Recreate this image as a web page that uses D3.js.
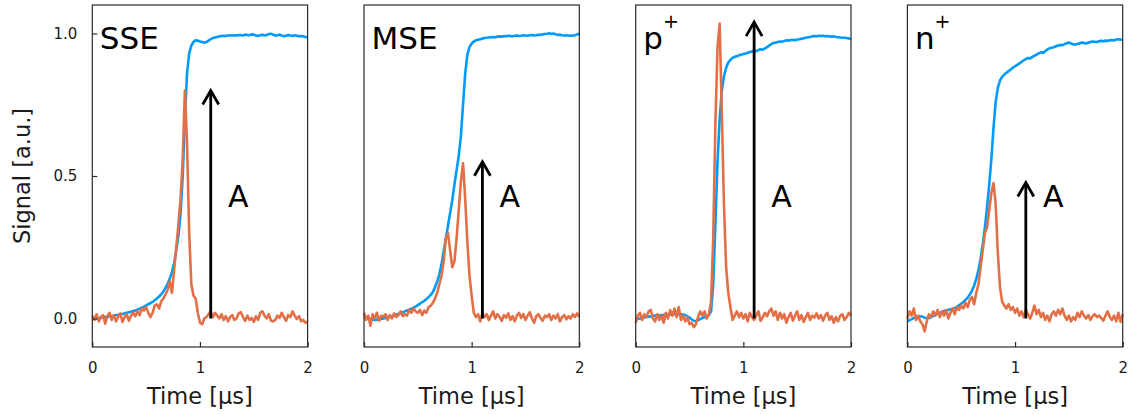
<!DOCTYPE html>
<html><head><meta charset="utf-8">
<script src="https://cdn.jsdelivr.net/npm/d3@7"></script>
<style>
body{margin:0;background:#fff}
svg{display:block}
text{font-family:"DejaVu Sans",sans-serif}
</style>
</head><body>
<svg id="chart" width="1132" height="414"></svg>
<script>
// ---------- data ----------
const panelLabels = ["SSE", "MSE", "p", "n"];
const panelSuperscripts = ["", "", "+", "+"];
const xTicks = [0, 1, 2];
const xTickLabels = ["0", "1", "2"];
const yTicks = [0, 0.5, 1.0];
const yTickLabels = ["0.0", "0.5", "1.0"];
const xTitle = "Time [μs]";
const yTitle = "Signal [a.u.]";
const arrowTime = [1.1, 1.1, 1.1, 1.1];
const arrowTop = [0.80, 0.55, 1.04, 0.477];
const arrowLabel = "A";
const sampleStart = 0, sampleStep = 0.02; // µs between samples

const sseBlue = [
0.000,0.001,0.000,0.002,0.003,0.004,0.005,0.006,0.008,0.008,
0.010,0.012,0.013,0.015,0.016,0.018,0.020,0.022,0.024,0.026,
0.028,0.031,0.034,0.038,0.042,0.046,0.050,0.054,0.058,0.064,
0.070,0.077,0.085,0.095,0.107,0.122,0.140,0.163,0.195,0.240,
0.290,0.370,0.500,0.700,0.860,0.930,0.958,0.970,0.976,0.975,
0.972,0.970,0.968,0.970,0.975,0.980,0.984,0.986,0.988,0.990,
0.991,0.992,0.991,0.993,0.994,0.993,0.994,0.993,0.995,0.994,
0.993,0.996,0.995,0.994,0.997,0.996,0.993,0.991,0.994,0.996,
0.993,0.995,0.998,0.999,0.996,0.993,0.994,0.996,0.993,0.990,
0.992,0.995,0.993,0.991,0.994,0.992,0.990,0.991,0.990,0.988,
0.986];
const sseOrange = [
0.010,-0.005,0.015,-0.010,0.005,0.012,-0.018,0.008,0.020,-0.005,
0.012,-0.010,0.006,0.018,-0.012,0.004,0.015,-0.008,0.010,0.020,
0.008,0.025,0.012,0.035,0.028,0.040,0.020,0.005,0.020,0.045,
0.050,0.035,0.060,0.070,0.085,0.100,0.130,0.090,0.170,0.250,
0.330,0.420,0.560,0.800,0.620,0.300,0.120,0.080,0.070,0.020,
-0.015,-0.020,0.000,0.005,0.015,0.025,0.005,0.020,0.010,0.000,
0.015,-0.005,0.008,-0.010,0.005,0.012,-0.005,0.000,0.018,0.022,
0.005,-0.008,0.010,-0.005,0.002,-0.012,0.008,-0.005,0.020,0.025,
0.010,0.000,0.015,-0.008,-0.010,-0.005,0.010,0.002,0.020,0.005,
-0.008,0.012,0.005,0.025,0.010,-0.002,0.008,-0.010,-0.005,-0.015,
-0.010];
const mseBlue = [
0.005,0.003,0.000,-0.002,-0.004,-0.005,-0.004,-0.003,-0.002,0.000,
0.002,0.004,0.006,0.008,0.010,0.013,0.016,0.019,0.022,0.025,
0.028,0.031,0.034,0.038,0.042,0.047,0.052,0.057,0.062,0.068,
0.075,0.083,0.093,0.110,0.130,0.155,0.190,0.235,0.280,0.325,
0.370,0.415,0.470,0.520,0.570,0.640,0.750,0.860,0.925,0.952,
0.965,0.972,0.976,0.978,0.980,0.982,0.984,0.985,0.986,0.987,
0.988,0.987,0.989,0.990,0.989,0.991,0.990,0.992,0.991,0.990,
0.992,0.993,0.991,0.992,0.994,0.993,0.992,0.994,0.995,0.993,
0.994,0.996,0.995,0.997,0.998,0.999,1.001,0.998,1.000,0.997,
0.995,0.996,0.994,0.993,0.994,0.993,0.992,0.993,0.994,0.997,
0.999];
const mseOrange = [
0.020,-0.005,0.010,-0.025,0.015,0.000,0.020,-0.008,0.010,0.005,
0.015,-0.005,0.012,0.000,0.018,0.005,0.012,0.025,0.008,0.015,
0.010,0.030,0.020,0.035,0.025,0.020,0.030,0.012,0.028,0.020,
0.040,0.045,0.055,0.070,0.090,0.120,0.150,0.200,0.280,0.300,
0.240,0.180,0.200,0.280,0.380,0.480,0.545,0.420,0.270,0.150,
0.080,0.020,0.005,0.015,-0.010,0.020,0.005,0.015,-0.005,0.010,
0.025,0.000,0.015,0.005,-0.008,0.012,0.003,0.018,-0.005,0.008,
-0.010,0.010,0.020,0.002,0.015,-0.005,0.010,0.022,0.000,-0.015,
0.008,0.015,0.002,-0.008,0.010,0.005,0.015,-0.005,0.010,0.000,
0.015,-0.010,0.005,0.012,-0.003,0.008,0.000,0.015,0.005,0.018,
0.005];
const pBlue = [
-0.004,-0.002,0.000,0.002,0.004,0.005,0.006,0.008,0.009,0.010,
0.010,0.011,0.012,0.012,0.013,0.013,0.014,0.014,0.015,0.015,
0.015,0.015,0.014,0.012,0.008,0.003,-0.003,-0.008,-0.010,-0.006,
-0.002,0.002,0.005,0.008,0.012,0.025,0.120,0.330,0.550,0.700,
0.800,0.850,0.880,0.898,0.908,0.915,0.918,0.920,0.924,0.925,
0.928,0.930,0.932,0.935,0.937,0.940,0.938,0.942,0.945,0.943,
0.948,0.952,0.958,0.963,0.967,0.968,0.970,0.972,0.971,0.974,
0.976,0.975,0.977,0.978,0.976,0.979,0.980,0.982,0.983,0.985,
0.987,0.988,0.990,0.991,0.990,0.992,0.991,0.992,0.990,0.991,
0.990,0.989,0.990,0.988,0.987,0.986,0.985,0.985,0.984,0.983,
0.980];
const pOrange = [
-0.015,0.010,0.020,-0.005,0.015,0.005,0.025,0.030,0.000,-0.010,
0.015,-0.005,0.010,-0.015,0.020,0.000,0.030,0.010,0.035,0.005,
0.040,-0.005,0.010,-0.010,0.005,-0.020,-0.015,-0.030,-0.020,0.005,
0.025,0.010,0.025,0.000,0.015,0.060,0.280,0.680,0.950,1.035,
0.720,0.400,0.180,0.090,0.040,-0.005,0.010,0.025,0.005,0.020,
0.000,0.015,-0.010,0.020,0.005,-0.005,0.010,0.025,-0.008,0.005,
0.020,0.008,0.025,0.035,0.010,0.025,-0.005,0.020,0.000,0.015,
-0.015,0.005,0.020,-0.008,0.010,0.025,-0.005,0.012,-0.012,0.005,
0.020,-0.005,0.010,0.003,0.018,0.000,0.012,-0.008,0.010,0.020,
-0.005,0.008,-0.015,0.005,-0.010,0.010,0.015,-0.005,0.005,0.020,
0.010];
const nBlue = [
-0.010,-0.006,-0.002,0.002,0.005,0.008,0.008,0.006,0.003,0.001,
0.002,0.005,0.009,0.013,0.017,0.020,0.023,0.026,0.028,0.030,
0.032,0.034,0.037,0.041,0.046,0.052,0.058,0.065,0.073,0.084,
0.098,0.115,0.140,0.170,0.210,0.260,0.320,0.390,0.470,0.560,
0.670,0.760,0.810,0.835,0.848,0.856,0.862,0.868,0.874,0.880,
0.885,0.890,0.895,0.900,0.906,0.910,0.914,0.912,0.918,0.922,
0.926,0.930,0.934,0.932,0.938,0.944,0.948,0.950,0.952,0.955,
0.958,0.960,0.959,0.963,0.966,0.968,0.965,0.962,0.961,0.963,
0.966,0.968,0.967,0.965,0.968,0.970,0.972,0.971,0.970,0.973,
0.974,0.973,0.975,0.974,0.976,0.977,0.976,0.979,0.980,0.979,
0.977];
const nOrange = [
0.000,0.025,0.010,0.035,-0.005,0.010,-0.010,-0.020,-0.045,-0.010,
0.015,0.005,0.025,0.010,0.030,0.005,0.025,0.010,0.030,0.000,
0.020,0.035,0.015,0.040,0.030,0.045,0.035,0.055,0.040,0.065,
0.075,0.050,0.090,0.120,0.180,0.240,0.300,0.320,0.380,0.440,
0.475,0.400,0.230,0.110,0.060,0.045,0.035,0.050,0.030,0.040,
0.020,0.035,0.010,0.025,0.005,0.030,0.015,0.000,0.020,0.045,
0.015,0.030,0.005,0.020,-0.005,0.010,-0.010,0.015,0.025,0.010,
0.030,0.015,0.035,0.010,-0.005,0.010,-0.010,0.005,-0.005,0.020,
0.005,0.025,0.010,0.000,0.012,-0.005,0.008,0.015,0.005,0.010,
0.002,-0.008,0.010,0.025,0.005,-0.005,0.010,-0.010,0.020,-0.012,
0.015];

const blueSeries = [sseBlue, mseBlue, pBlue, nBlue];
const orangeSeries = [sseOrange, mseOrange, pOrange, nOrange];

// ---------- layout ----------
const svg = d3.select("#chart");
const panelLeft0 = 92.3, panelStep = 271.7, panelW = 215.3;
const plotTop = 5, plotBottom = 347;
const blue = "#009AFA", orange = "#E36F47";
const frameColor = "#2a2a2a";

const y = d3.scaleLinear().domain([-0.1, 1.1]).range([plotBottom, plotTop]);

const line = (xs) => d3.line()
  .x((d, i) => xs(sampleStart + i * sampleStep))
  .y(d => y(d));

panelLabels.forEach((label, p) => {
  const left = panelLeft0 + p * panelStep;
  const x = d3.scaleLinear().domain([0, 2]).range([left, left + panelW]);
  const g = svg.append("g");

  // series
  g.append("path").datum(blueSeries[p])
    .attr("d", line(x)).attr("fill", "none")
    .attr("stroke", blue).attr("stroke-width", 2.6)
    .attr("stroke-linejoin", "round");
  g.append("path").datum(orangeSeries[p])
    .attr("d", line(x)).attr("fill", "none")
    .attr("stroke", orange).attr("stroke-width", 2.6)
    .attr("stroke-linejoin", "round");

  // arrow
  const ax = x(arrowTime[p]);
  const ay0 = y(0), ay1 = y(arrowTop[p]);
  g.append("line").attr("x1", ax).attr("x2", ax).attr("y1", ay0).attr("y2", ay1 + 1)
    .attr("stroke", "#000").attr("stroke-width", 2.8);
  g.append("path")
    .attr("d", `M${ax - 8},${ay1 + 14}L${ax},${ay1}L${ax + 8},${ay1 + 14}`)
    .attr("fill", "none").attr("stroke", "#000").attr("stroke-width", 2.8)
    .attr("stroke-linejoin", "miter");
  g.append("text").attr("x", x(1.355)).attr("y", y(0.39))
    .attr("text-anchor", "middle").attr("font-size", 30).attr("fill", "#000")
    .text(arrowLabel);

  // panel label
  const lt = g.append("text").attr("x", x(0.07)).attr("y", y(0.945))
    .attr("font-size", 31).attr("fill", "#000");
  lt.append("tspan").text(label);
  if (panelSuperscripts[p]) {
    lt.append("tspan").attr("font-size", 19).attr("dy", -21).attr("dx", 0)
      .text(panelSuperscripts[p]);
  }

  // frame
  g.append("rect").attr("x", left).attr("y", plotTop)
    .attr("width", panelW).attr("height", plotBottom - plotTop)
    .attr("fill", "none").attr("stroke", frameColor).attr("stroke-width", 1.2);

  // x axis
  const xa = g.append("g").attr("transform", `translate(0,${plotBottom})`)
    .call(d3.axisBottom(x).tickValues(xTicks)
      .tickFormat((d, i) => xTickLabels[i])
      .tickSizeInner(-5).tickSizeOuter(0).tickPadding(15));
  xa.select(".domain").remove();
  xa.selectAll("line").attr("stroke", frameColor).attr("stroke-width", 1.2);
  xa.selectAll("text").attr("font-size", 15).attr("fill", "#1a1a1a")
    .attr("font-family", "DejaVu Sans");

  g.append("text").attr("x", (x(0) + x(2)) / 2).attr("y", 404)
    .attr("text-anchor", "middle").attr("font-size", 22.5).attr("fill", "#1a1a1a")
    .text(xTitle);

  if (p === 0) {
    const ya = g.append("g").attr("transform", `translate(${left},0)`)
      .call(d3.axisLeft(y).tickValues(yTicks)
        .tickFormat((d, i) => yTickLabels[i])
        .tickSizeInner(-5).tickSizeOuter(0).tickPadding(15));
    ya.select(".domain").remove();
    ya.selectAll("line").attr("stroke", frameColor).attr("stroke-width", 1.2);
    ya.selectAll("text").attr("font-size", 15).attr("fill", "#1a1a1a")
      .attr("font-family", "DejaVu Sans");
    g.append("text")
      .attr("transform", `translate(30,${(plotTop + plotBottom) / 2}) rotate(-90)`)
      .attr("text-anchor", "middle").attr("font-size", 22.5).attr("fill", "#1a1a1a")
      .text(yTitle);
  }
});
</script>
</body></html>
